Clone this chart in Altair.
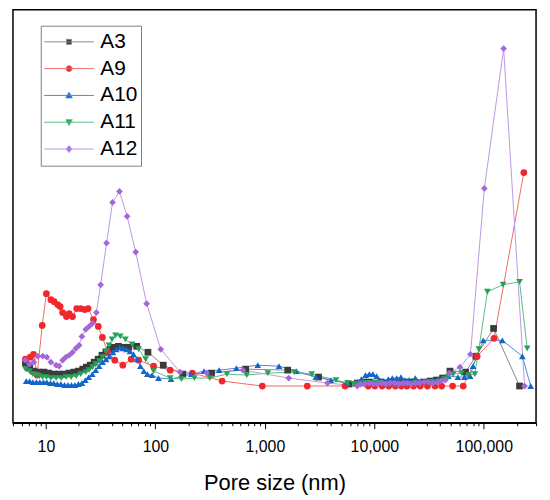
import altair as alt
import pandas as pd

series_names = ["A3", "A9", "A10", "A11", "A12"]

a3_size = [6.5, 7.1, 7.7, 8.5, 9.6, 10.6, 11.8, 13.1, 14.6, 16.2, 18.0, 19.8, 21.7, 23.4, 25.4,
           27.6, 30.0, 32.5, 35.3, 38.5, 42.0, 46.0, 51.0, 57.1, 67.5, 85.5, 118, 178, 326, 668,
           1618, 3090, 5870, 7000, 8000, 9000, 10000, 11500, 13000, 15000, 17000, 19500, 22000,
           25000, 28500, 32500, 37000, 42000, 49100, 68100, 84600, 122800, 212000]
a3_val = [60, 55, 52, 51, 51, 50, 49, 49, 49, 50, 51, 52, 54, 56, 58,
          61, 64, 68, 71, 74, 76, 77, 76, 76, 77, 71, 58, 49, 50, 54,
          53, 46, 39, 40, 41, 41, 40, 41, 40, 41, 40, 41, 41,
          40, 41, 42, 43, 45, 52, 51, 67, 95, 37]

a9_size = [6.5, 7.2, 7.7, 8.3, 9.25, 10.1, 11.1, 11.9, 12.8, 13.5, 14.2, 15.4, 16.3, 17.5, 19.1,
           20.8, 22.6, 24.3, 27.2, 30.1, 32.8, 36.4, 42.6, 50.4, 60.1, 70.4, 96.3, 136.5, 217.6,
           407, 947, 2441, 5400, 8790, 10100, 11770, 13540, 15570, 17650, 19850, 22810, 26240,
           30570, 35910, 41230, 51880, 64880, 86960, 123900, 232000]
a9_val = [64, 66, 69, 48, 98, 130, 124, 122, 119, 117, 111, 107, 110, 107, 115,
          115, 114, 115, 104, 97, 86, 72, 63, 58, 64, 63, 57, 53, 50,
          42, 37, 37, 37, 37, 37, 37, 37, 37, 37, 37, 37, 37,
          37, 37, 37, 37, 37, 67, 85, 252]

a10_size = [6.6, 7.1, 7.6, 8.2, 8.8, 9.5, 10.2, 11.0, 11.8, 12.7, 13.7, 14.8, 15.9, 17.1, 18.4,
            19.8, 21.3, 22.9, 24.6, 26.5, 28.5, 30.6, 32.9, 35.4, 38.0, 40.9, 44.0, 47.3, 50.8,
            54.6, 58.7, 63.2, 67.9, 73.0, 78.5, 84.4, 93.2, 106.7, 139, 213, 278, 382, 549, 862,
            1346, 1937, 2925, 4002, 5690, 7000, 7600, 8300, 9000, 9700, 10500, 11200, 12200,
            13400, 14600, 16000, 17500, 19000, 20800, 23700, 26500, 30000, 34000, 38500, 43000,
            47300, 58000, 66600, 75000, 79800, 98800, 147500, 225000, 268000]
a10_val = [42, 42, 41, 41, 41, 41, 41, 40, 40, 39, 39, 38, 38, 38, 38,
           39, 40, 43, 46, 49, 53, 57, 61, 64, 67, 71, 74, 76, 75,
           74, 72, 69, 64, 57, 52, 49, 48, 45, 44, 49, 52, 53, 55, 58,
           57, 52, 46, 43, 40, 41, 44, 48, 49, 49, 47, 43, 42,
           44, 45, 45, 46, 43, 43, 45, 42, 42, 43, 43, 45,
           47, 46, 46, 47, 57, 83, 83, 67, 37]

a11_size = [6.5, 7.07, 7.6, 8.2, 8.75, 9.3, 10.1, 11.1, 12.4, 13.8, 15.3, 17.0, 18.9, 20.8, 23.2,
            24.8, 26.7, 28.5, 30.8, 32.9, 35.3, 37.6, 40.2, 43.2, 47.8, 53.2, 61.3, 70.3, 81.4,
            96.3, 136.5, 173, 227, 314, 450, 684, 1064, 1860, 2680, 4460, 5690, 6500, 7400, 8300,
            9200, 10200, 11300, 12500, 13900, 15400, 17100, 19000, 21100, 23400, 26000, 28900,
            32000, 35500, 39500, 43500, 46800, 52600, 62600, 72000, 82800, 90100, 107900, 149800,
            212000, 249000]
a11_val = [54, 52, 49, 48, 47, 46, 46, 45, 45, 45, 46, 46, 47, 49, 51,
           53, 56, 59, 62, 66, 72, 78, 84, 88, 87, 84, 79, 74, 64,
           52, 45, 44, 45, 45, 49, 48, 50, 51, 49, 43, 40, 39, 39, 40,
           40, 40, 40, 39, 39, 39, 39, 39, 39, 40, 39, 40,
           41, 41, 42, 44, 46, 49, 50, 48, 49, 74, 132, 139,
           142, 75]

a12_size = [6.5, 7.07, 7.75, 8.42, 9.35, 10.2, 11.1, 12.4, 13.2, 14.2, 15.2, 16.3, 17.5, 18.8, 20.1,
            21.3, 23.1, 24.8, 26.6, 28.9, 31.6, 35.8, 40.6, 47.0, 55.2, 66.1, 83.2, 112, 168, 294,
            631, 1651, 3733, 6984, 7500, 8200, 9000, 9800, 10700, 11700, 12800, 14000, 15300,
            16700, 18300, 20000, 21800, 23900, 26100, 28500, 31200, 34100, 37300, 40800, 44600,
            48400, 60500, 75500, 101100, 151700, 235600]
a12_val = [63, 59, 61, 67, 67, 66, 61, 58, 57, 63, 66, 68, 71, 75, 78,
           87, 94, 97, 100, 111, 139, 181, 222, 233, 208, 172, 120, 74, 51, 50,
           53, 45, 40, 37, 39, 39, 40, 39, 39, 40, 39, 40, 40,
           39, 40, 40, 39, 40, 40, 41, 41, 40, 41, 42, 43,
           50, 56, 69, 236, 377, 37]

marker_colors = ["#3b3b3b", "#f0282d", "#1565c8", "#27a05a", "#a466da"]
line_colors = ["#8a8a8a", "#f26a6a", "#4f8ad6", "#5bbd83", "#bd97e6"]
plot_shapes = ["square", "circle", "triangle-up", "triangle-down", "diamond"]
legend_paths = [
    "M-1,0H1M-0.1,-0.1H0.1V0.1H-0.1Z",
    "M-1,0H1M-0.12,0A0.12,0.12,0,1,0,0.12,0A0.12,0.12,0,1,0,-0.12,0Z",
    "M-1,0H1M0,-0.13L0.13,0.1L-0.13,0.1Z",
    "M-1,0H1M0,0.13L0.13,-0.1L-0.13,-0.1Z",
    "M-1,0H1M0,-0.14L0.12,0L0,0.14L-0.12,0Z",
]
tick_values = [5, 6, 7, 8, 9] + [m * 10 ** e for e in range(1, 5) for m in range(1, 10)] + [100000, 200000, 300000]

rows = []
for name, xs, ys in [("A3", a3_size, a3_val), ("A9", a9_size, a9_val), ("A10", a10_size, a10_val),
                     ("A11", a11_size, a11_val), ("A12", a12_size, a12_val)]:
    for xv, yv in zip(xs, ys):
        rows.append({"series": name, "size": xv, "dv": yv})
df = pd.DataFrame(rows)
legend_df = pd.DataFrame({"series": series_names})

is_major = "abs(log(datum.value)/LN10 - round(log(datum.value)/LN10)) < 0.001"

x_axis = alt.Axis(
    values=tick_values,
    labelExpr=f"({is_major}) ? format(datum.value, ',') : ''",
    tickSize={"condition": {"test": is_major, "value": 6}, "value": 3},
    tickColor="black",
    tickWidth=1,
    domainColor="black",
    domainWidth=1.5,
    grid=False,
    labelFontSize=16,
    labelColor="black",
    labelPadding=10,
    labelOverlap=False,
    labelFlush=False,
    titleFontSize=22,
    titleFontWeight="normal",
    titleColor="black",
    titlePadding=18,
)

x_enc = alt.X("size:Q", scale=alt.Scale(type="log", domain=[5, 300000]), axis=x_axis,
              title="Pore size (nm)")
y_enc = alt.Y("dv:Q", scale=alt.Scale(domain=[0, 416]), axis=None)

lines = alt.Chart(df).mark_line(strokeWidth=1).encode(
    x=x_enc, y=y_enc,
    stroke=alt.Stroke("series:N", scale=alt.Scale(domain=series_names, range=line_colors), legend=None),
    detail="series:N",
)

points = alt.Chart(df).mark_point(filled=True, size=46, opacity=1).encode(
    x=x_enc, y=y_enc,
    fill=alt.Fill("series:N", scale=alt.Scale(domain=series_names, range=marker_colors), legend=None),
    shape=alt.Shape("series:N", scale=alt.Scale(domain=series_names, range=plot_shapes), legend=None),
)

leg = alt.Legend(
    title=None, orient="none", legendX=28, legendY=16,
    symbolSize=2500, symbolStrokeWidth=1, symbolOpacity=1, clipHeight=26.5, rowPadding=0,
    labelFontSize=21, labelColor="black", labelOffset=6,
    strokeColor="#7f7f7f", fillColor="white", padding=3,
)

legend_layer = alt.Chart(legend_df).mark_point(filled=True, opacity=0).encode(
    fill=alt.Fill("series:N", scale=alt.Scale(domain=series_names, range=marker_colors), legend=leg),
    stroke=alt.Stroke("series:N", scale=alt.Scale(domain=series_names, range=line_colors), legend=leg),
    shape=alt.Shape("series:N", scale=alt.Scale(domain=series_names, range=legend_paths), legend=leg),
)

chart = alt.layer(lines, points, legend_layer).resolve_scale(
    fill="independent", stroke="independent", shape="independent"
).properties(
    width=527, height=416,
    padding={"left": 4, "top": 0, "right": 5, "bottom": 5},
).configure(
    font="Liberation Sans",
).configure_view(
    stroke="black", strokeWidth=1.5,
)

chart.save("out.html", embed_options={"renderer": "svg", "actions": False})
